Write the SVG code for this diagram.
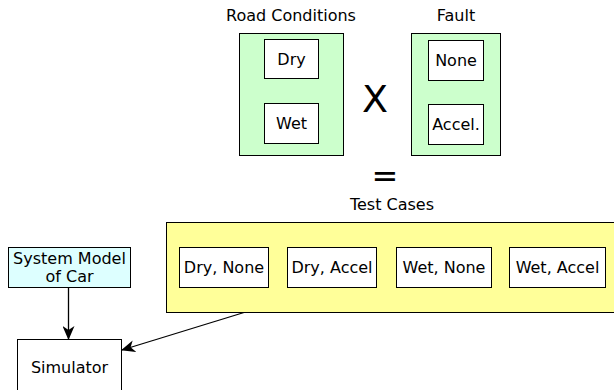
<svg xmlns="http://www.w3.org/2000/svg" width="614" height="390" viewBox="0 0 614 390">
<style>
text{font-family:"DejaVu Sans",sans-serif;font-size:16px;fill:#000;text-anchor:middle}
.box{fill:#fff;stroke:#000;stroke-width:1}
.grp{fill:#ccffcc;stroke:#000;stroke-width:1}
.line{stroke:#000;stroke-width:1.3;fill:none}
</style>
<defs>
<marker id="ah" markerWidth="14" markerHeight="12" refX="13" refY="6" orient="auto" markerUnits="userSpaceOnUse">
<path d="M0,0 L14,6 L0,12 L4,6 Z" fill="#000"/>
</marker>
</defs>
<rect width="614" height="390" fill="#fff"/>
<g id="road">
<text x="291" y="21">Road Conditions</text>
<rect class="grp" x="239.5" y="33.5" width="104" height="122"/>
<g id="dry"><rect class="box" x="264.5" y="39.5" width="54" height="39"/><text x="291.5" y="65">Dry</text></g>
<g id="wet"><rect class="box" x="264.5" y="103.5" width="54" height="40"/><text x="291.5" y="129">Wet</text></g>
</g>
<text x="375" y="112" style="font-size:38px">X</text>
<g id="fault">
<text x="456" y="21">Fault</text>
<rect class="grp" x="411.5" y="33.5" width="89" height="122"/>
<g id="none"><rect class="box" x="428.5" y="40.5" width="55" height="40"/><text x="456" y="66">None</text></g>
<g id="accel"><rect class="box" x="428.5" y="104.5" width="55" height="40"/><text x="456" y="130">Accel.</text></g>
</g>
<text x="385" y="187" style="font-size:32px">=</text>
<g id="testcases">
<text x="392" y="210">Test Cases</text>
<rect x="166.5" y="222.5" width="460" height="90" fill="#ffff99" stroke="#000"/>
<g id="tc1"><rect class="box" x="179.5" y="247.5" width="89" height="40"/><text x="224" y="273">Dry, None</text></g>
<g id="tc2"><rect class="box" x="287.5" y="247.5" width="89" height="40"/><text x="332" y="273">Dry, Accel</text></g>
<g id="tc3"><rect class="box" x="396.5" y="247.5" width="95" height="40"/><text x="444" y="273">Wet, None</text></g>
<g id="tc4"><rect class="box" x="509.5" y="247.5" width="96" height="40"/><text x="557.5" y="273">Wet, Accel</text></g>
</g>
<g id="model">
<rect x="8.5" y="247.5" width="122" height="40" fill="#ddffff" stroke="#000"/>
<text x="69.5" y="263.5">System Model</text>
<text x="69.5" y="281.5">of Car</text>
</g>
<g id="sim">
<rect class="box" x="17.5" y="339.5" width="104" height="60"/>
<text x="69.5" y="373">Simulator</text>
</g>
<g id="connectors">
<line class="line" x1="68.5" y1="287.5" x2="68.5" y2="339" marker-end="url(#ah)"/>
<line class="line" x1="244" y1="312.5" x2="122" y2="350" marker-end="url(#ah)"/>
</g>
</svg>
